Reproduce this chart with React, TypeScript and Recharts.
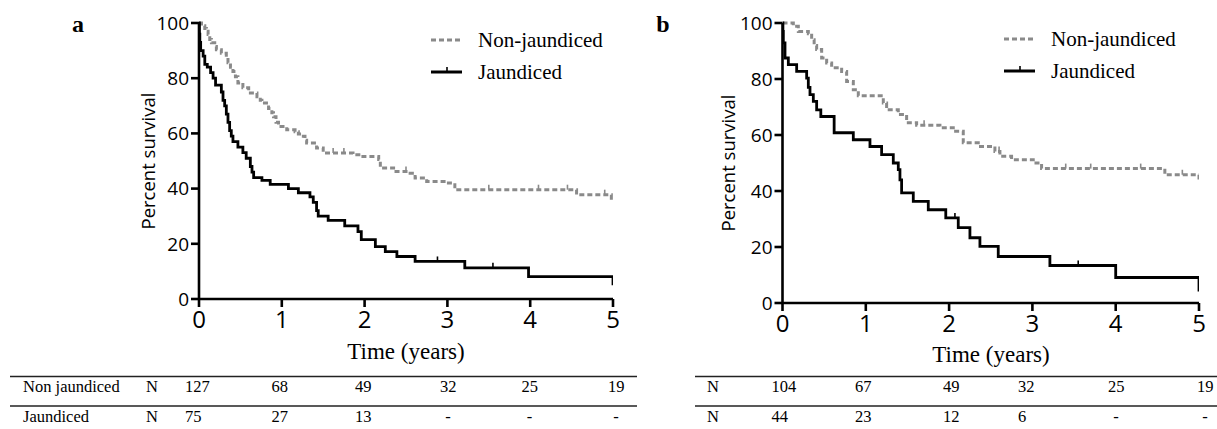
import React from 'react';
import { LineChart, Line, XAxis, YAxis } from 'recharts';

const years = [0, 1, 2, 3, 4, 5];
const percentTicks = [0, 20, 40, 60, 80, 100];

// [time (years), percent surviving after the step]
const aNonJaundiced: [number, number][] = [
  [0, 100], [0.03, 99], [0.07, 98], [0.09, 97], [0.11, 95.8], [0.13, 94], [0.15, 92.8],
  [0.19, 91.5], [0.21, 90.3], [0.27, 89], [0.33, 87.5], [0.35, 85.6], [0.38, 84], [0.41, 82.4],
  [0.44, 80.5], [0.47, 78.3], [0.53, 76.5], [0.6, 74.6], [0.7, 73.3], [0.74, 72], [0.76, 71],
  [0.84, 69], [0.88, 67.5], [0.9, 66], [0.93, 64], [0.96, 62.5], [1.06, 61.3], [1.16, 60.6],
  [1.2, 59.8], [1.24, 59], [1.28, 57.5], [1.3, 56.5], [1.42, 54.7], [1.5, 52.9], [1.86, 52.3],
  [1.96, 51.6], [2.17, 50.5], [2.19, 47.5], [2.35, 46.2], [2.55, 45.6], [2.61, 43.8],
  [2.75, 42.6], [2.99, 42], [3.09, 39.6], [4.56, 37.8], [4.98, 36],
];
const aJaundiced: [number, number][] = [
  [0, 100], [0.005, 96], [0.01, 93], [0.02, 90], [0.05, 88], [0.07, 85], [0.1, 84], [0.14, 82],
  [0.17, 80], [0.2, 77.5], [0.27, 75], [0.29, 72], [0.31, 70], [0.33, 67], [0.35, 64], [0.37, 61],
  [0.39, 59], [0.41, 57], [0.47, 55], [0.53, 53], [0.57, 51], [0.62, 48], [0.64, 46], [0.66, 44],
  [0.76, 43], [0.86, 41.5], [1.08, 40], [1.2, 38.5], [1.34, 37], [1.38, 35], [1.42, 32],
  [1.44, 30], [1.56, 28.5], [1.76, 26.5], [1.92, 24.4], [1.96, 21.5], [2.13, 19], [2.25, 17.2],
  [2.39, 15.4], [2.61, 13.6], [3.21, 11.3], [3.98, 8.1], [5, 5],
];
const bNonJaundiced: [number, number][] = [
  [0, 100], [0.13, 98.8], [0.19, 97], [0.31, 96.2], [0.35, 94], [0.38, 92], [0.41, 90.5],
  [0.47, 87.5], [0.53, 85.7], [0.59, 84], [0.71, 82.7], [0.77, 79.1], [0.85, 76.2], [0.91, 74],
  [1.21, 71.4], [1.25, 69], [1.39, 67.3], [1.49, 64.4], [1.61, 63.5], [1.89, 62.6], [2.05, 61.3],
  [2.17, 57.2], [2.35, 55.9], [2.55, 54.1], [2.61, 52.4], [2.75, 51.2], [3.01, 50], [3.11, 48],
  [4.59, 45.8], [5, 43],
];
const bJaundiced: [number, number][] = [
  [0, 100], [0.005, 97], [0.01, 92.9], [0.03, 87.5], [0.07, 85.1], [0.17, 82.7], [0.29, 80.3],
  [0.31, 77], [0.33, 74.4], [0.37, 72], [0.41, 69], [0.46, 66.6], [0.62, 60.8], [0.85, 58.3],
  [1.05, 55.9], [1.19, 53], [1.33, 50], [1.39, 47.6], [1.41, 44], [1.43, 39.3], [1.57, 36.3],
  [1.75, 33.3], [1.96, 30.4], [2.11, 26.9], [2.25, 23.3], [2.37, 20.2], [2.59, 16.6],
  [3.21, 13.4], [4.0, 9.1], [5, 4.1],
];

// censored observations (small ticks)
const aNonCensored = [1.62, 1.75, 2.5, 3.5, 4.1, 4.45, 4.9];
const aJaunCensored = [2.88, 3.55];
const bNonCensored = [1.7, 2.6, 3.4, 3.7, 4.3, 4.8];
const bJaunCensored = [2.07, 3.55];

// numbers at risk
const aRiskNon = ['127', '68', '49', '32', '25', '19'];
const aRiskJaun = ['75', '27', '13', '-', '-', '-'];
const bRiskNon = ['104', '67', '49', '32', '25', '19'];
const bRiskJaun = ['44', '23', '12', '6', '-', '-'];

const GRAY = '#8a8a8a';
const SERIF = '"Liberation Serif", "Times New Roman", serif';
const SANS = '"Open Sans", sans-serif';

type Pt = { t: number; v: number; c: boolean };

function buildCurve(steps: [number, number][], censored: number[]): Pt[] {
  const pts: Pt[] = steps.map(([t, v]) => ({ t, v, c: false }));
  censored.forEach((ct) => {
    let v = steps[0][1];
    steps.forEach(([t, sv]) => {
      if (t <= ct) v = sv;
    });
    pts.push({ t: ct, v, c: true });
  });
  return pts.sort((p, q) => p.t - q.t);
}

const censorDot = (color: string) => (props: any) => {
  const { cx, cy, payload, index } = props;
  if (!payload || !payload.c) return <g key={`n${index}`} />;
  return <line key={`c${index}`} x1={cx} x2={cx} y1={cy - 5} y2={cy} stroke={color} strokeWidth={1.6} />;
};

function Panel(props: {
  non: Pt[];
  jaun: Pt[];
  width: number;
  margin: { top: number; right: number; bottom: number; left: number };
}) {
  const { non, jaun, width, margin } = props;
  return (
    <LineChart width={width} height={345} margin={margin}>
      <XAxis
        type="number"
        dataKey="t"
        domain={[0, 5]}
        ticks={years}
        allowDataOverflow
        height={40}
        tickSize={8}
        tickMargin={4}
        axisLine={{ stroke: '#000', strokeWidth: 2.6 }}
        tickLine={{ stroke: '#000', strokeWidth: 2.6 }}
        tick={{ fill: '#000', fontSize: 24, fontFamily: SANS }}
      />
      <YAxis
        type="number"
        dataKey="v"
        domain={[0, 100]}
        ticks={percentTicks}
        width={60}
        tickSize={8}
        tickMargin={2}
        axisLine={{ stroke: '#000', strokeWidth: 2.6 }}
        tickLine={{ stroke: '#000', strokeWidth: 2.6 }}
        tick={{ fill: '#000', fontSize: 19, fontFamily: SANS }}
      />
      <Line
        data={non}
        dataKey="v"
        type="stepAfter"
        stroke={GRAY}
        strokeWidth={3}
        strokeDasharray="5 3"
        dot={censorDot(GRAY)}
        activeDot={false}
        isAnimationActive={false}
      />
      <Line
        data={jaun}
        dataKey="v"
        type="stepAfter"
        stroke="#000"
        strokeWidth={2.8}
        dot={censorDot('#000')}
        activeDot={false}
        isAnimationActive={false}
      />
    </LineChart>
  );
}

function Legend({ x, y }: { x: number; y: number }) {
  return (
    <g>
      <line x1={x} x2={x + 31} y1={y} y2={y} stroke={GRAY} strokeWidth={3} strokeDasharray="5 3" />
      <text x={x + 47} y={y + 7} fontFamily={SERIF} fontSize={21} fill="#000">Non-jaundiced</text>
      <line x1={x} x2={x + 31} y1={y + 32} y2={y + 32} stroke="#000" strokeWidth={3} />
      <line x1={x + 16} x2={x + 16} y1={y + 27} y2={y + 32} stroke="#000" strokeWidth={1.6} />
      <text x={x + 47} y={y + 39} fontFamily={SERIF} fontSize={21} fill="#000">Jaundiced</text>
    </g>
  );
}

function RiskRow(props: { y: number; cols: number[]; values: string[]; nX: number; label?: string }) {
  const { y, cols, values, nX, label } = props;
  return (
    <g fontFamily={SERIF} fontSize={16.5} fill="#000">
      {label && <text x={23} y={y}>{label}</text>}
      <text x={nX} y={y} textAnchor="middle">N</text>
      {values.map((s, i) =>
        s === '-' ? (
          <text key={i} x={cols[i] + 8} y={y} textAnchor="middle">-</text>
        ) : (
          <text key={i} x={cols[i]} y={y}>{s}</text>
        )
      )}
    </g>
  );
}

const aCols = [185, 271.5, 355, 440, 521.5, 608];
const bCols = [771.5, 855, 943, 1018, 1108, 1197];

export default function App() {
  const aNon = buildCurve(aNonJaundiced, aNonCensored);
  const aJaun = buildCurve(aJaundiced, aJaunCensored);
  const bNon = buildCurve(bNonJaundiced, bNonCensored);
  const bJaun = buildCurve(bJaundiced, bJaunCensored);

  return (
    <div style={{ position: 'absolute', left: 0, top: 0, width: 1217, height: 429, background: '#fff', overflow: 'hidden' }}>
      <div style={{ position: 'absolute', left: 0, top: 0 }}>
        <Panel non={aNon} jaun={aJaun} width={640} margin={{ top: 23, right: 27, bottom: 6, left: 139 }} />
      </div>
      <div style={{ position: 'absolute', left: 640, top: 0 }}>
        <Panel non={bNon} jaun={bJaun} width={577} margin={{ top: 23, right: 18, bottom: 2, left: 82.5 }} />
      </div>
      <svg width={1217} height={429} style={{ position: 'absolute', left: 0, top: 0, pointerEvents: 'none' }}>
        <text x={78} y={32} textAnchor="middle" fontFamily={SERIF} fontWeight="bold" fontSize={24}>a</text>
        <text x={663} y={32} textAnchor="middle" fontFamily={SERIF} fontWeight="bold" fontSize={24}>b</text>

        <text x={147} y={161} transform="rotate(-90 147 161)" textAnchor="middle" dominantBaseline="central" fontFamily={SANS} fontSize={18.5}>Percent survival</text>
        <text x={727} y={163} transform="rotate(-90 727 163)" textAnchor="middle" dominantBaseline="central" fontFamily={SANS} fontSize={18.5}>Percent survival</text>

        <text x={406} y={359} textAnchor="middle" fontFamily={SERIF} fontSize={23}>Time (years)</text>
        <text x={991} y={362} textAnchor="middle" fontFamily={SERIF} fontSize={23}>Time (years)</text>

        <Legend x={431} y={40} />
        <Legend x={1004} y={39} />

        <line x1={10} x2={637} y1={376.5} y2={376.5} stroke="#222" strokeWidth={1.6} />
        <line x1={10} x2={637} y1={406} y2={406} stroke="#222" strokeWidth={1.6} />
        <RiskRow y={392} cols={aCols} values={aRiskNon} nX={152} label="Non jaundiced" />
        <RiskRow y={422} cols={aCols} values={aRiskJaun} nX={152} label="Jaundiced" />

        <line x1={695} x2={1217} y1={376.5} y2={376.5} stroke="#222" strokeWidth={1.6} />
        <line x1={695} x2={1217} y1={406} y2={406} stroke="#222" strokeWidth={1.6} />
        <RiskRow y={392} cols={bCols} values={bRiskNon} nX={713} />
        <RiskRow y={422} cols={bCols} values={bRiskJaun} nX={713} />
      </svg>
    </div>
  );
}
